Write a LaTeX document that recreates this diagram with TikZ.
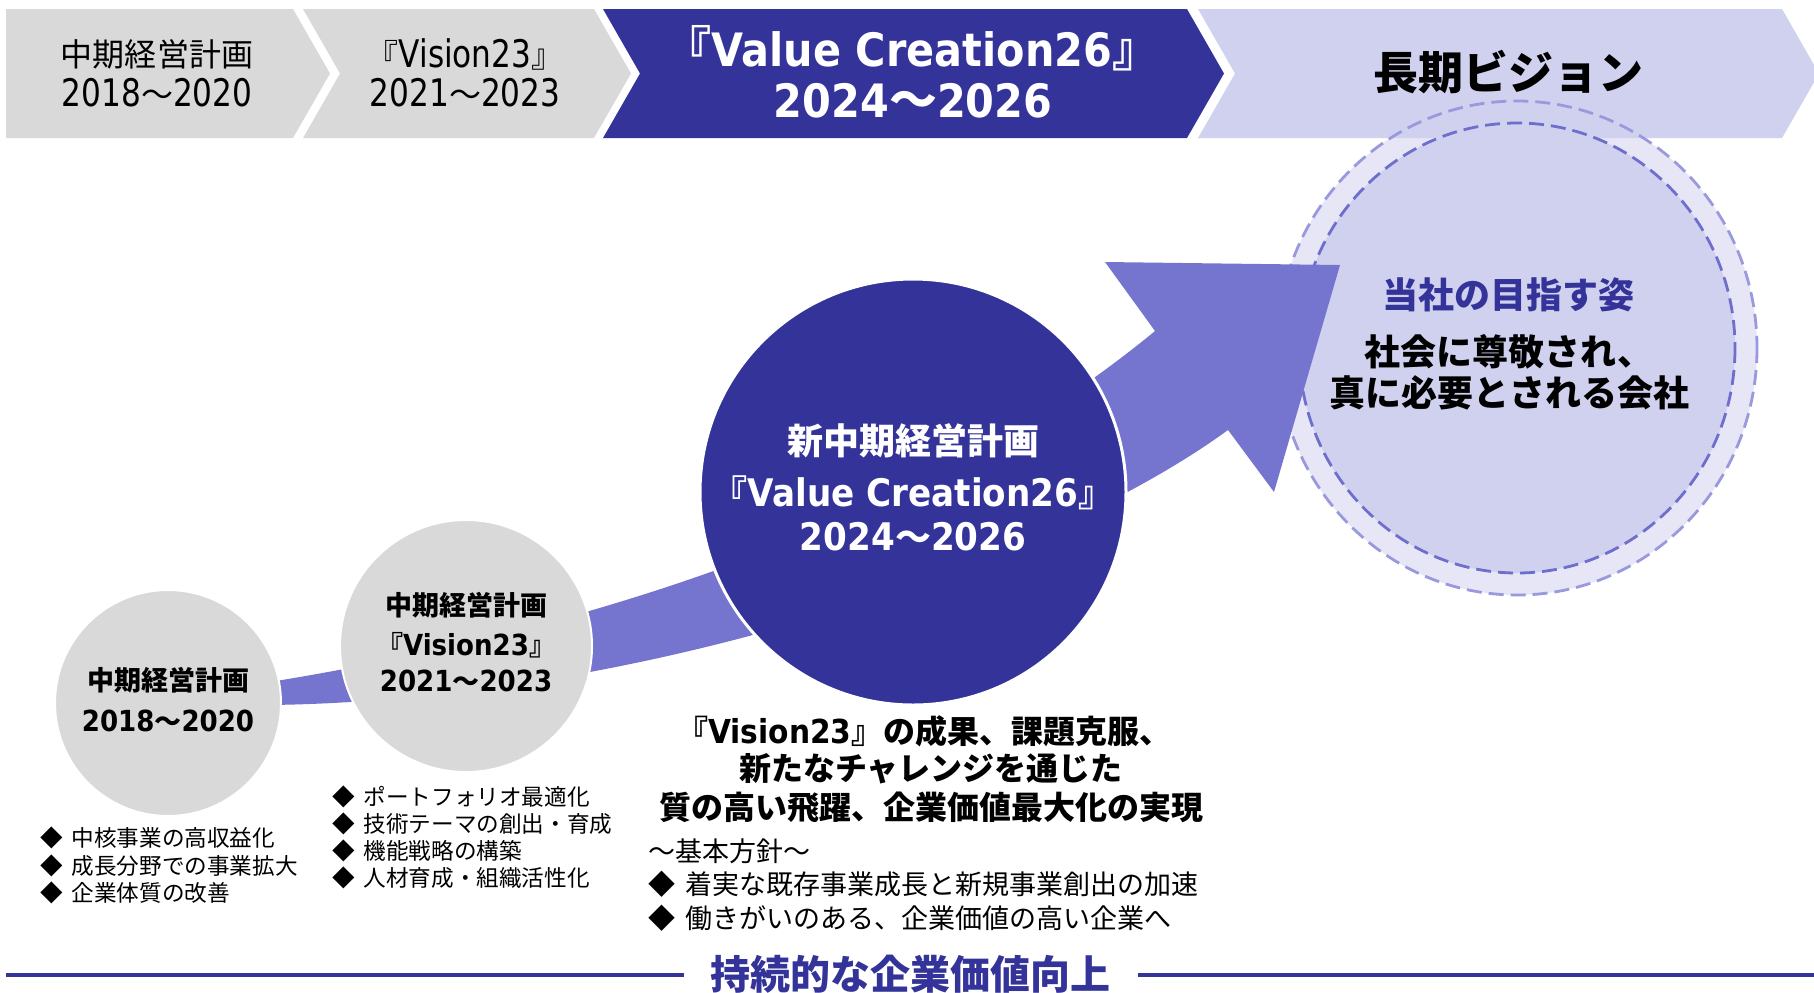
\documentclass[tikz,border=0pt]{standalone}
\usepackage{fontspec}
\setmainfont{DejaVu Sans}
\newfontfamily\jp{Noto Sans CJK JP}
\newfontfamily\latr{DejaVu Sans}[FakeStretch=0.82]
\newfontfamily\latb{DejaVu Sans}[FakeStretch=0.9]
\newcommand\fs[1]{\fontsize{#1}{#1}\selectfont}
\newcommand\LQ{{\jp\kern-.45em『}}
\newcommand\RQ{{\jp』\kern-.45em}}
\definecolor{navy}{HTML}{343399}
\definecolor{gry}{HTML}{D9D9D9}
\definecolor{arr}{HTML}{7575CF}
\definecolor{lav}{HTML}{D0D1EF}
\definecolor{lavl}{HTML}{E6E6F6}
\definecolor{dsho}{HTML}{9999DD}
\definecolor{dshi}{HTML}{6E6ECC}
\tikzset{
  banreg/.style={font=\jp\fs{16}, text=black},
  banbold/.style={font=\jp\bfseries\fs{24}, text=white},
  circtxt/.style={font=\jp\bfseries\fs{13.5}, text=black},
  bigtxt/.style={font=\jp\bfseries\fs{18}, text=white},
  bul/.style={font=\jp\fs{11.3}, text=black, anchor=west},
  pol/.style={font=\jp\fs{13.5}, text=black, anchor=west},
  midtxt/.style={font=\jp\bfseries\fs{16}, text=black},
  vistxt/.style={font=\jp\bfseries\fs{18}, text=black},
  dashring/.style={line width=1.4pt, dash pattern=on 7.5pt off 3.5pt},
}
\begin{document}
\begin{tikzpicture}[x=0.5pt,y=-0.5pt, every node/.style={inner sep=0pt, outer sep=0pt}]
\useasboundingbox (0,0) rectangle (1814,992);

% long-term vision circle fills
\fill[lavl] (1517,348) ellipse [x radius=240, y radius=247];
\fill[lav] (1517,348) ellipse [x radius=218, y radius=225];

% banner chevrons
\fill[gry] (6,9) -- (293,9) -- (330,73.5) -- (293,138) -- (6,138) -- cycle;
\fill[gry] (303,9) -- (594,9) -- (631,73.5) -- (594,138) -- (303,138) -- (340,73.5) -- cycle;
\fill[navy] (603,9) -- (1187,9) -- (1224,73.5) -- (1187,138) -- (603,138) -- (640,73.5) -- cycle;
\fill[lav] (1198,9) -- (1782,9) -- (1819,73.5) -- (1782,138) -- (1198,138) -- (1235,73.5) -- cycle;

% dashed outlines
\draw[dsho, dashring] (1517,348) ellipse [x radius=240, y radius=247];
\draw[dshi, dashring] (1517,348) ellipse [x radius=218, y radius=225];

% growth arrow
\fill[arr] (270,682) .. controls (650,620) and (950,500) .. (1155,331)
  -- (1105,262) -- (1340,265) -- (1274,492) -- (1228,430)
  .. controls (1050,560) and (650,700) .. (270,705) -- cycle;

% circles
\node (cA) [circle, fill=gry, draw=white, line width=1pt, minimum size=113pt] at (168,703) {};
\node (cB) [circle, fill=gry, draw=white, line width=1pt, minimum size=126pt] at (466,646) {};
\node (cC) [circle, fill=navy, draw=white, line width=1.5pt, minimum size=213pt] at (913,492) {};

% banner texts
\node (t1a) [banreg] at (157,54) {中期経営計画};
\node (t1b) [banreg] at (157,93) {{\latr\fs{19}2018}～{\latr\fs{19}2020}};
\node (t2a) [banreg] at (465,54) {\LQ{\latr\fs{19}Vision23}\RQ};
\node (t2b) [banreg] at (465,93) {{\latr\fs{19}2021}～{\latr\fs{19}2023}};
\node (t3a) [banbold] at (912,48) {\LQ{\latb\fs{23}Value Creation26}\RQ};
\node (t3b) [banbold] at (913,101) {{\latb\fs{23}2024}～{\latb\fs{23}2026}};
\node (t4) [font=\jp\bfseries\fs{22.5}, text=black] at (1508,72) {長期ビジョン};

% circle texts
\node (cAa) [circtxt] at (168,680) {中期経営計画};
\node (cAb) [circtxt] at (168,721) {{\latb\fs{14.5}2018}～{\latb\fs{14.5}2020}};
\node (cBa) [circtxt] at (466,605) {中期経営計画};
\node (cBb) [circtxt] at (466,645) {\LQ{\latb\fs{14.5}Vision23}\RQ};
\node (cBc) [circtxt] at (466,681) {{\latb\fs{14.5}2021}～{\latb\fs{14.5}2023}};
\node (cCa) [bigtxt] at (913,441) {新中期経営計画};
\node (cCb) [bigtxt] at (913,493) {\LQ{\latb\fs{19}Value Creation26}\RQ};
\node (cCc) [bigtxt] at (913,537) {{\latb\fs{19}2024}～{\latb\fs{19}2026}};

% vision texts
\node (v1) [vistxt, text=navy] at (1508,295) {当社の目指す姿};
\node (v2) [vistxt] at (1509,352) {社会に尊敬され、};
\node (v3) [vistxt] at (1509,393) {真に必要とされる会社};

% texts under the new plan
\node (m1) [midtxt] at (931,731) {\LQ{\latb\fs{16.5}Vision23}』の成果、課題克服、};
\node (m2) [midtxt] at (931,769) {新たなチャレンジを通じた};
\node (m3) [midtxt] at (931,807) {質の高い飛躍、企業価値最大化の実現};
\node (p0) [pol] at (648,851) {～基本方針～};
\node (p1) [pol] at (648,884) {◆\hspace{.4em}着実な既存事業成長と新規事業創出の加速};
\node (p2) [pol] at (648,918) {◆\hspace{.4em}働きがいのある、企業価値の高い企業へ};

% bullets under circles
\node (a1) [bul] at (40,838) {◆\hspace{.4em}中核事業の高収益化};
\node (a2) [bul] at (40,866) {◆\hspace{.4em}成長分野での事業拡大};
\node (a3) [bul] at (40,893) {◆\hspace{.4em}企業体質の改善};
\node (b1) [bul] at (332,797) {◆\hspace{.4em}ポートフォリオ最適化};
\node (b2) [bul] at (332,824) {◆\hspace{.4em}技術テーマの創出・育成};
\node (b3) [bul] at (332,851) {◆\hspace{.4em}機能戦略の構築};
\node (b4) [bul] at (332,878) {◆\hspace{.4em}人材育成・組織活性化};

% bottom line
\node (bt) [font=\jp\bfseries\fs{20}, text=navy] at (910,974) {持続的な企業価値向上};
\coordinate (lineL) at (6,975);
\coordinate (lineR) at (1814,975);
\draw[navy, line width=2pt] (lineL) -- ([xshift=-13pt]bt.west |- lineL);
\draw[navy, line width=2pt] ([xshift=14pt]bt.east |- lineR) -- (lineR);
\end{tikzpicture}
\end{document}
